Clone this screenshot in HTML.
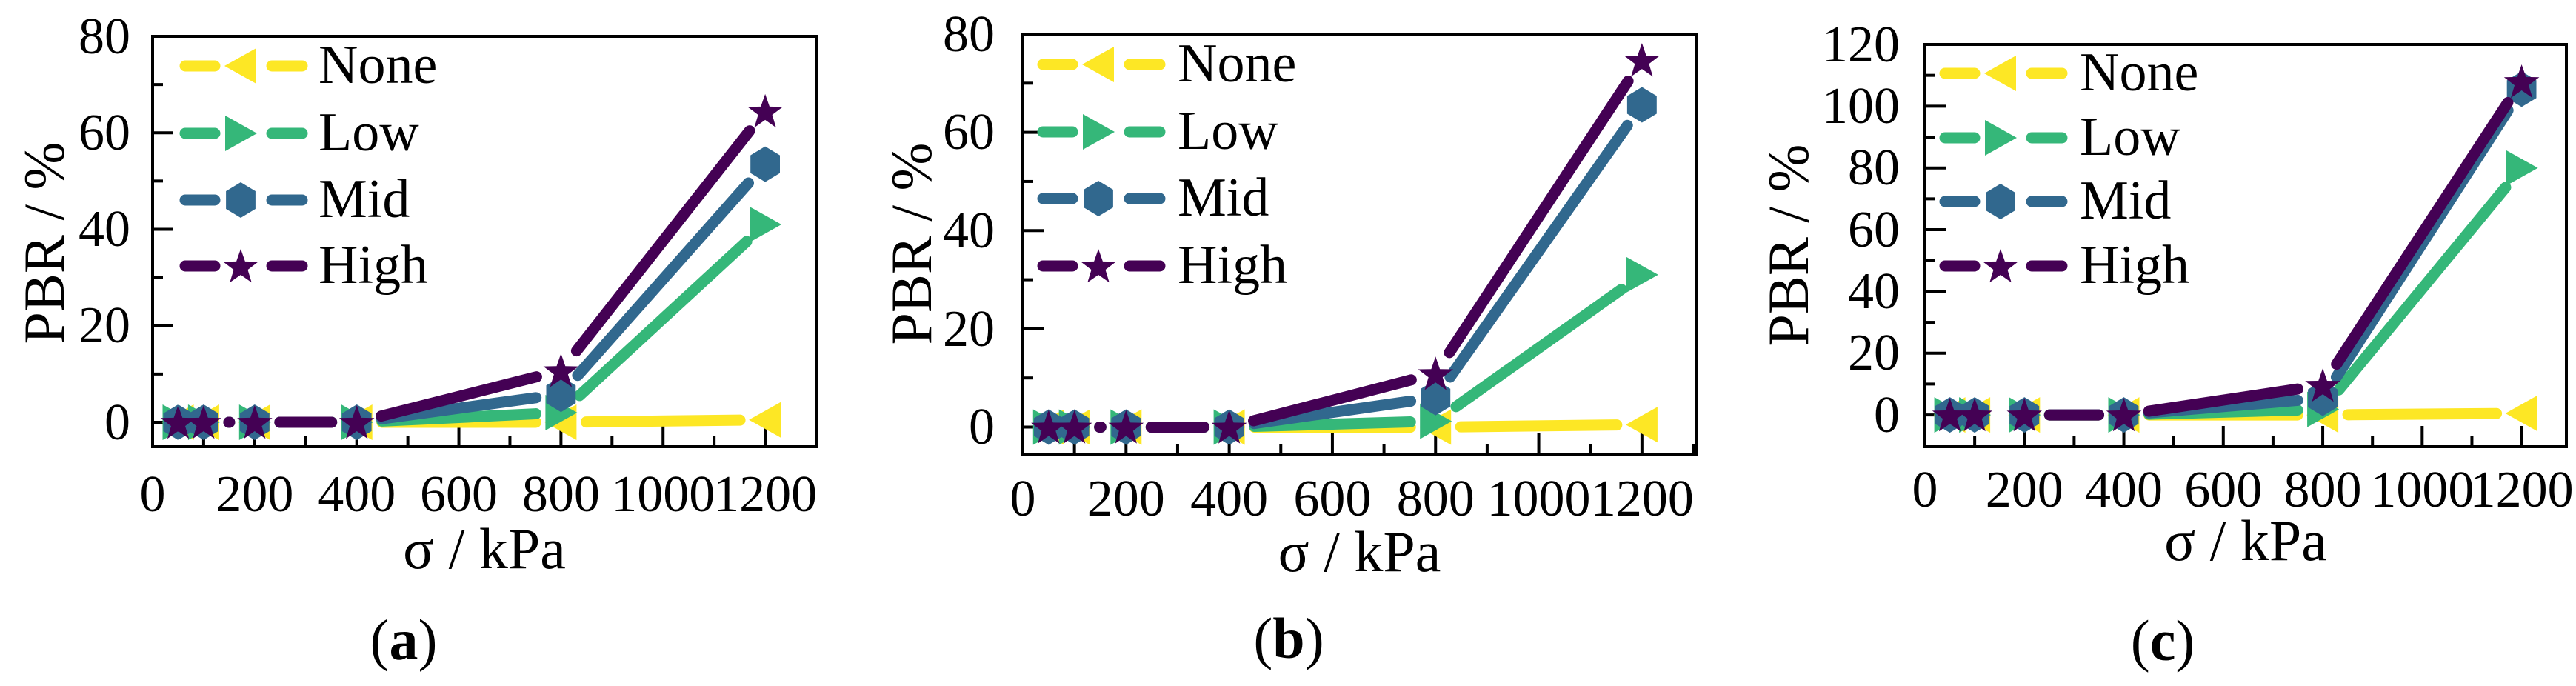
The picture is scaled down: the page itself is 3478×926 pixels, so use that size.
<!DOCTYPE html>
<html><head><meta charset="utf-8"><style>
html,body{margin:0;padding:0;background:#fff;}
#wrap{position:relative;width:3478px;height:926px;overflow:hidden;}
svg{display:block;position:absolute;left:0;top:0;}
.lbl{position:absolute;white-space:nowrap;color:#000;
  font-family:"Liberation Serif","Times New Roman","DejaVu Serif",serif;
  line-height:1.107em;}
</style></head><body>
<div id="wrap">
<svg id="fig" width="3478" height="926" viewBox="0 0 3478 926" xmlns="http://www.w3.org/2000/svg"></svg>
</div>
<script>
// ---- data ----
const xValues = [50, 100, 200, 400, 800, 1200];
const seriesNames = ["None", "Low", "Mid", "High"];
const aNone = [0, 0, 0, 0, 0, 0.5];
const aLow  = [0, 0, 0, 0, 2, 41];
const aMid  = [0, 0, 0, 0, 5.8, 53.5];
const aHigh = [0, 0, 0, 0, 10.7, 64.5];
const bNone = [0, 0, 0, 0, 0, 0.5];
const bLow  = [0, 0, 0, 0, 1.2, 31];
const bMid  = [0, 0, 0, 0, 6, 65.6];
const bHigh = [0, 0, 0, 0, 10.9, 74.7];
const cNone = [0, 0, 0, 0, 0, 0.5];
const cLow  = [0, 0, 0, 0, 1.8, 80];
const cMid  = [0, 0, 0, 0, 5.4, 105.5];
const cHigh = [0, 0, 0, 0, 9.6, 108];
const xTickLabels = [0, 200, 400, 600, 800, 1000, 1200];
const yTickLabelsAB = [0, 20, 40, 60, 80];
const yTickLabelsC = [0, 20, 40, 60, 80, 100, 120];
const panelLetters = ["a", "b", "c"];

const colors = ["#fde725", "#35b779", "#31688e", "#440154"];
const markers = ["tl", "tr", "hex", "star"];
const NS = "http://www.w3.org/2000/svg";
const svg = document.getElementById("fig");
const wrap = document.getElementById("wrap");

function el(tag, attrs, parent) {
  const e = document.createElementNS(NS, tag);
  for (const k in attrs) e.setAttribute(k, attrs[k]);
  (parent || svg).appendChild(e);
  return e;
}
// HTML label placed by baseline; anchor: 'start' | 'middle' | 'end'
function label(html, x, baseline, fs, anchor) {
  const d = document.createElement("div");
  d.className = "lbl";
  d.style.fontSize = fs + "px";
  d.style.left = x + "px";
  d.style.top = (baseline - 0.891 * fs) + "px";
  const tx = anchor === "middle" ? "-50%" : anchor === "end" ? "-100%" : "0";
  d.style.transform = "translateX(" + tx + ")";
  d.innerHTML = html;
  wrap.appendChild(d);
  return d;
}

function markerShape(type, x, y, color, parent) {
  let pts = [];
  if (type === "tl") pts = [[x-22,y],[x+21,y-24],[x+21,y+24]];
  else if (type === "tr") pts = [[x+22,y],[x-21,y-24],[x-21,y+24]];
  else if (type === "hex") {
    for (let i = 0; i < 6; i++) { const a = Math.PI/2 + i*Math.PI/3; pts.push([x+23*Math.cos(a), y-24*Math.sin(a)]); }
  } else {
    for (let i = 0; i < 10; i++) { const a = Math.PI/2 + i*Math.PI/5; const r = i%2 ? 10 : 25; pts.push([x+r*Math.cos(a), y-r*Math.sin(a)+2]); }
  }
  return el("polygon", {points: pts.map(p=>p[0].toFixed(1)+","+p[1].toFixed(1)).join(" "), fill: color}, parent);
}

const panels = [
  {L:206, R:1102, T:49, B:603, xmax:1300, ymin:-5.07, ymax:80, data:[aNone,aLow,aMid,aHigh], yt:yTickLabelsAB, minor:10,
   ylabX:176, ylabCx:60, ylabCy:328, xtY:691, xlY:767, capX:545, capY:890, legX:243, legY:[89,180,270,359], legT:430},
  {L:1381, R:2290, T:46, B:613, xmax:1305, ymin:-5.5, ymax:80, data:[bNone,bLow,bMid,bHigh], yt:yTickLabelsAB, minor:10,
   ylabX:1343, ylabCx:1231, ylabCy:329, xtY:697, xlY:771, capX:1740, capY:888, legX:1401, legY:[87,178,268,359], legT:1590},
  {L:2599, R:3465, T:60, B:603, xmax:1290, ymin:-10.3, ymax:120, data:[cNone,cLow,cMid,cHigh], yt:yTickLabelsC, minor:10,
   ylabX:2565, ylabCx:2415, ylabCy:331, xtY:685, xlY:756, capX:2920, capY:891, legX:2619, legY:[99,186,272,359], legT:2808}
];

panels.forEach((p, pi) => {
  const g = el("g", {});
  
  
  const sx = v => p.L + (v / p.xmax) * (p.R - p.L);
  const sy = v => p.B - (v - p.ymin) / (p.ymax - p.ymin) * (p.B - p.T);

  for (let v = 0; v <= p.xmax; v += 100) {
    const major = v % 200 === 0;
    const t = el("line", {x1:sx(v), x2:sx(v), y1:p.B, y2:p.B-(major?28:14), stroke:"#000", "stroke-width":4}, g);
    
    
  }
  for (let v = 0; v <= p.ymax; v += p.minor) {
    const major = p.yt.indexOf(v) >= 0;
    const t = el("line", {x1:p.L, x2:p.L+(major?28:14), y1:sy(v), y2:sy(v), stroke:"#000", "stroke-width":4}, g);
    
    
  }
  xTickLabels.forEach(v => {
    const t = label(String(v), sx(v), p.xtY, 70, "middle");
    
    
  });
  p.yt.forEach(v => {
    const t = label(String(v), p.ylabX, sy(v)+24, 70, "end");
    
    
  });
  const yl = document.createElement("div");
  yl.className = "lbl";
  yl.style.fontSize = "78px";
  yl.style.left = p.ylabCx + "px";
  yl.style.top = p.ylabCy + "px";
  yl.style.transform = "translate(-50%,-50%) rotate(-90deg)";
  yl.textContent = "PBR / %";
  wrap.appendChild(yl);
  
  
  const xl = label("σ / kPa", (p.L+p.R)/2, p.xlY, 78, "middle");
  
  
  const cap = label('(<b>' + panelLetters[pi] + '</b>)', p.capX, p.capY, 78, "middle");
  
  

  p.data.forEach((vals, si) => {
    const sg = el("g", {}, g);
    
    
    const trim = 34;
    for (let i = 0; i < xValues.length - 1; i++) {
      const x1 = sx(xValues[i]), y1 = sy(vals[i]), x2 = sx(xValues[i+1]), y2 = sy(vals[i+1]);
      const len = Math.hypot(x2-x1, y2-y1);
      if (len <= 2*trim) continue;
      const ux = (x2-x1)/len, uy = (y2-y1)/len;
      const ln = el("line", {x1:x1+ux*trim, y1:y1+uy*trim, x2:x2-ux*trim, y2:y2-uy*trim, stroke:colors[si], "stroke-width":15, "stroke-linecap":"round"}, sg);
      
      
    }
    xValues.forEach((xv, i) => {
      const m = markerShape(markers[si], sx(xv), sy(vals[i]), colors[si], sg);
      
      
    });
  });

  const lg = el("g", {}, g);
  
  
  seriesNames.forEach((n, si) => {
    const y = p.legY[si], x0 = p.legX;
    const e = el("g", {}, lg);
    
    
    el("line", {x1:x0+7, x2:x0+47, y1:y, y2:y, stroke:colors[si], "stroke-width":15, "stroke-linecap":"round"}, e);
    el("line", {x1:x0+124, x2:x0+165, y1:y, y2:y, stroke:colors[si], "stroke-width":15, "stroke-linecap":"round"}, e);
    markerShape(markers[si], x0+82, y, colors[si], e);
    const t = label(n, p.legT, y+25, 74, "start");
    
    
  });

  const fr = el("rect", {x:p.L, y:p.T, width:p.R-p.L, height:p.B-p.T, fill:"none", stroke:"#000", "stroke-width":4}, g);
  
  
});
</script>
</body></html>
